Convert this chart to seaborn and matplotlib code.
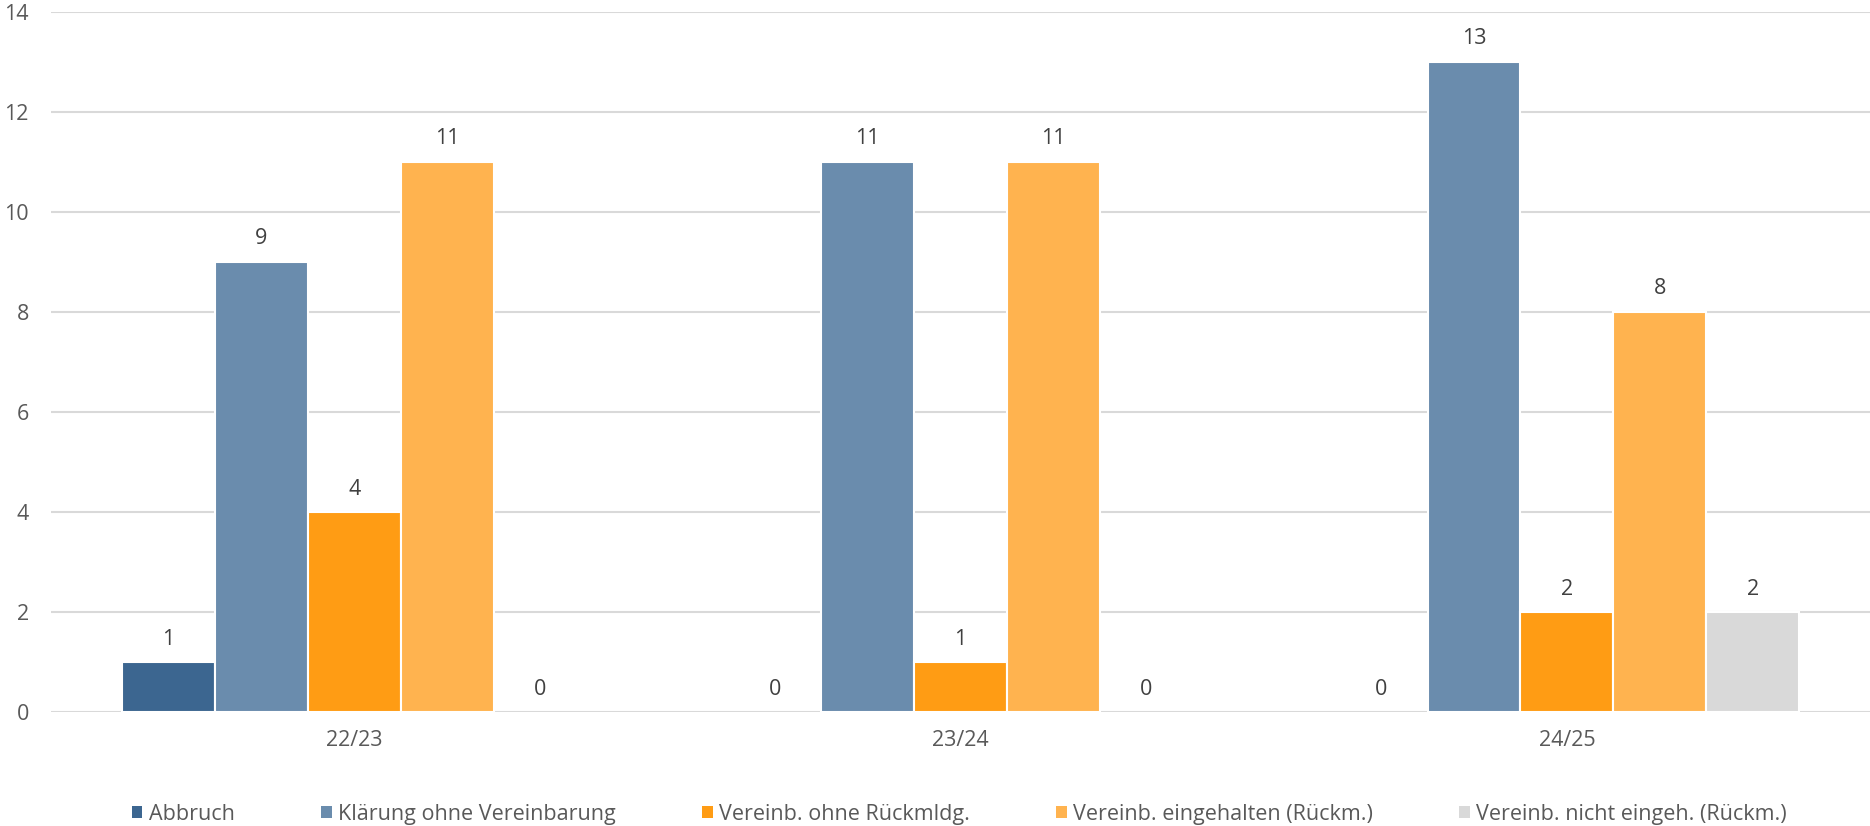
import matplotlib
matplotlib.use("Agg")
import matplotlib.pyplot as plt
from matplotlib.patches import Patch
import seaborn as sns
import pandas as pd

years = ["22/23", "23/24", "24/25"]
categories = ["Abbruch", "Klärung ohne Vereinbarung", "Vereinb. ohne Rückmldg.",
              "Vereinb. eingehalten (Rückm.)", "Vereinb. nicht eingeh. (Rückm.)"]
abbruch = [1, 0, 0]
klaerung = [9, 11, 13]
ohne_rueck = [4, 1, 2]
eingehalten = [11, 11, 8]
nicht_eingeh = [0, 0, 2]
yticks = [0, 2, 4, 6, 8, 10, 12, 14]

colors = ["#3c6690", "#6a8cad", "#ff9c14", "#ffb34f", "#d9d9d9"]

series = [abbruch, klaerung, ohne_rueck, eingehalten, nicht_eingeh]
rows = []
for cat, vals in zip(categories, series):
    for y, v in zip(years, vals):
        rows.append({"Jahr": y, "Kategorie": cat, "Anzahl": v})
df = pd.DataFrame(rows)

sns.set_theme(style="white")
plt.rcParams["font.family"] = ["Open Sans", "DejaVu Sans"]

fig = plt.figure(figsize=(18.7, 8.26), dpi=100)
ax = fig.add_axes([0.0273, 0.138, 0.9727, 0.8475])

sns.barplot(data=df, x="Jahr", y="Anzahl", hue="Kategorie", hue_order=categories,
            order=years, palette=colors, saturation=1, width=0.766,
            edgecolor="white", linewidth=1.5, ax=ax, legend=False, zorder=3)

for cont in ax.containers:
    for p in cont.patches:
        if p.get_height() == 0:
            p.set_edgecolor("none")
    ax.bar_label(cont, padding=9, fontsize=15.5, color="#404040")

ax.set_ylim(0, 14)
ax.set_yticks(yticks)
ax.set_xlim(-0.5, 2.5)
ax.grid(axis="y", color="#d9d9d9", linewidth=1.5, zorder=0)
ax.set_axisbelow(True)
for s in ax.spines.values():
    s.set_visible(False)
ax.tick_params(axis="both", length=0, labelsize=15.5, colors="#595959")
ax.tick_params(axis="y", pad=16)
ax.tick_params(axis="x", pad=13)
ax.set_xlabel("")
ax.set_ylabel("")

handles = [Patch(facecolor=c, edgecolor="none") for c in colors]
fig.legend(handles, categories, loc="center", bbox_to_anchor=(0.513, 0.0145),
           ncol=5, frameon=False, fontsize=15.5, labelcolor="#595959",
           handlelength=0.5, handleheight=0.5, handletextpad=0.3,
           columnspacing=4.0)

fig.savefig("out.png", dpi=100)
